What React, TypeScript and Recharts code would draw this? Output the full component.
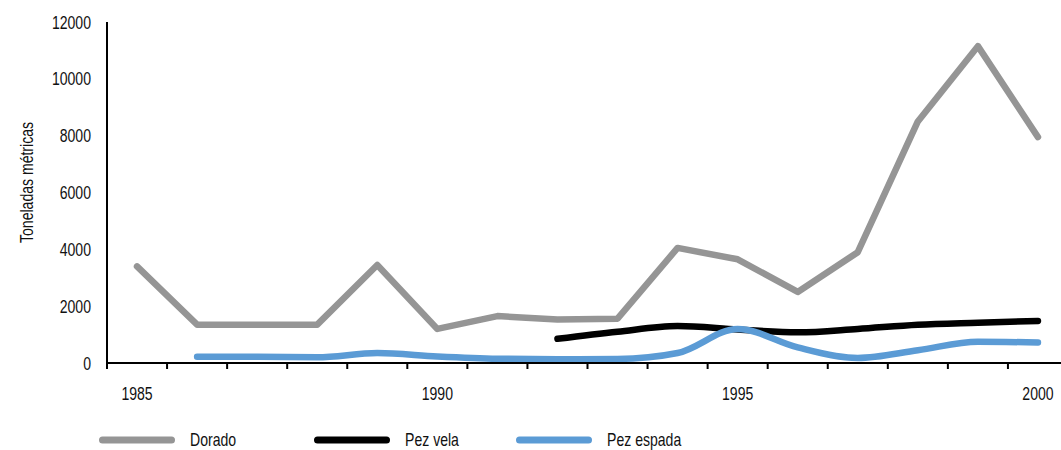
import React from 'react';
import { LineChart, Line, XAxis, YAxis, Legend, Label } from 'recharts';

const years = [1985, 1986, 1987, 1988, 1989, 1990, 1991, 1992, 1993, 1994, 1995, 1996, 1997, 1998, 1999, 2000];
const dorado = [3400, 1350, 1350, 1350, 3450, 1200, 1650, 1530, 1560, 4050, 3650, 2500, 3900, 8500, 11150, 7950];
const pezVela = [null, null, null, null, null, null, null, 850, 1100, 1300, 1180, 1080, 1200, 1350, 1420, 1480];
const pezEspada = [null, 220, 220, 200, 350, 230, 150, 130, 140, 350, 1200, 550, 180, 450, 750, 720];

const yTicks = [0, 2000, 4000, 6000, 8000, 10000, 12000];
const xLabelYears = [1985, 1990, 1995, 2000];
const xTickMarks = [1984.5, 1985.5, 1986.5, 1987.5, 1988.5, 1989.5, 1990.5, 1991.5, 1992.5, 1993.5, 1994.5, 1995.5, 1996.5, 1997.5, 1998.5, 1999.5, 2000.5];

const seriesOrder = ['Dorado', 'Pez vela', 'Pez espada'];
const yTitle = 'Toneladas métricas';

const data = years.map((year, i) => ({
  year,
  dorado: dorado[i],
  pezVela: pezVela[i],
  pezEspada: pezEspada[i],
}));

const FONT = '"Liberation Sans", Arial, sans-serif';
const FS = 18.5;
const SX = 0.76;
const allXTicks = [...xTickMarks, ...xLabelYears].sort((a, b) => a - b);

const NText = ({ x, y, anchor, rotate, dy, children }: any) => (
  <text
    x={0}
    y={0}
    dy={dy}
    transform={`translate(${x} ${y})${rotate ? ` rotate(${rotate})` : ''} scale(${SX} 1)`}
    textAnchor={anchor}
    fontFamily={FONT}
    fontSize={FS}
    fill="#111"
  >
    {children}
  </text>
);

const XTick = (props: any) => {
  const { x, y, payload } = props;
  const v = payload.value;
  if (xLabelYears.includes(v)) {
    return <NText x={x} y={y + 31} anchor="middle">{v}</NText>;
  }
  return <line x1={x} x2={x} y1={y - 6} y2={y} stroke="#000" strokeWidth={2} />;
};

const YTick = (props: any) => {
  const { x, y, payload } = props;
  return <NText x={x} y={y} anchor="end" dy="0.355em">{payload.value}</NText>;
};

const YLabel = (props: any) => {
  const vb = props.viewBox || { x: 0, y: 22, width: 107, height: 341 };
  const cx = vb.x + 33;
  const cy = vb.y + vb.height / 2 - 10;
  return <NText x={cx} y={cy} anchor="middle" rotate={-90}>{yTitle}</NText>;
};

const legendWidths = [215, 202, 200];

const LegendContent = (props: any) => {
  const payload = [...(props.payload || [])].sort(
    (a: any, b: any) => seriesOrder.indexOf(a.value) - seriesOrder.indexOf(b.value)
  );
  return (
    <div style={{ display: 'flex', flexDirection: 'row', alignItems: 'center', height: 18, fontFamily: FONT, fontSize: FS, color: '#111', lineHeight: '18px' }}>
      {payload.map((entry: any, i: number) => (
        <div key={i} style={{ display: 'flex', alignItems: 'center', width: legendWidths[i], height: 18 }}>
          <svg width={84} height={10} style={{ marginRight: 11, flex: '0 0 auto' }}>
            <line x1={7.5} x2={76.5} y1={5} y2={5} stroke={entry.color} strokeWidth={7} strokeLinecap="round" />
          </svg>
          <span style={{ display: 'inline-block', transform: `scaleX(${SX})`, transformOrigin: 'left center', whiteSpace: 'nowrap' }}>
            {entry.value}
          </span>
        </div>
      ))}
    </div>
  );
};

export default function App() {
  return (
    <div style={{ position: 'absolute', left: 0, top: 0, width: 1061, height: 450, overflow: 'hidden', background: '#fff' }}>
      <LineChart width={1080} height={450} data={data} margin={{ top: 22, right: 12, left: 0, bottom: 47 }}>
        <XAxis
          dataKey="year"
          type="number"
          domain={[1984.5, 2000.5]}
          ticks={allXTicks}
          interval={0}
          tick={<XTick />}
          tickLine={false}
          tickSize={6}
          tickMargin={0}
          height={40}
          axisLine={{ stroke: '#000', strokeWidth: 2 }}
          allowDataOverflow
        />
        <YAxis
          type="number"
          domain={[0, 12000]}
          ticks={yTicks}
          interval={0}
          width={107}
          tickLine={false}
          tickSize={6}
          tickMargin={10}
          axisLine={{ stroke: '#000', strokeWidth: 2 }}
          tick={<YTick />}
        >
          <Label content={<YLabel />} />
        </YAxis>
        <Legend
          layout="horizontal"
          verticalAlign="middle"
          align="center"
          content={<LegendContent />}
          wrapperStyle={{ top: 431, left: 95, width: 700, height: 18 }}
        />
        <Line
          type="linear"
          dataKey="dorado"
          name="Dorado"
          stroke="#959595"
          strokeWidth={6.5}
          strokeLinecap="round"
          strokeLinejoin="round"
          dot={false}
          activeDot={false}
          isAnimationActive={false}
        />
        <Line
          type="monotone"
          dataKey="pezVela"
          name="Pez vela"
          stroke="#000000"
          strokeWidth={6.5}
          strokeLinecap="round"
          strokeLinejoin="round"
          dot={false}
          activeDot={false}
          isAnimationActive={false}
        />
        <Line
          type="monotone"
          dataKey="pezEspada"
          name="Pez espada"
          stroke="#5B9BD5"
          strokeWidth={6.5}
          strokeLinecap="round"
          strokeLinejoin="round"
          dot={false}
          activeDot={false}
          isAnimationActive={false}
        />
      </LineChart>
    </div>
  );
}
